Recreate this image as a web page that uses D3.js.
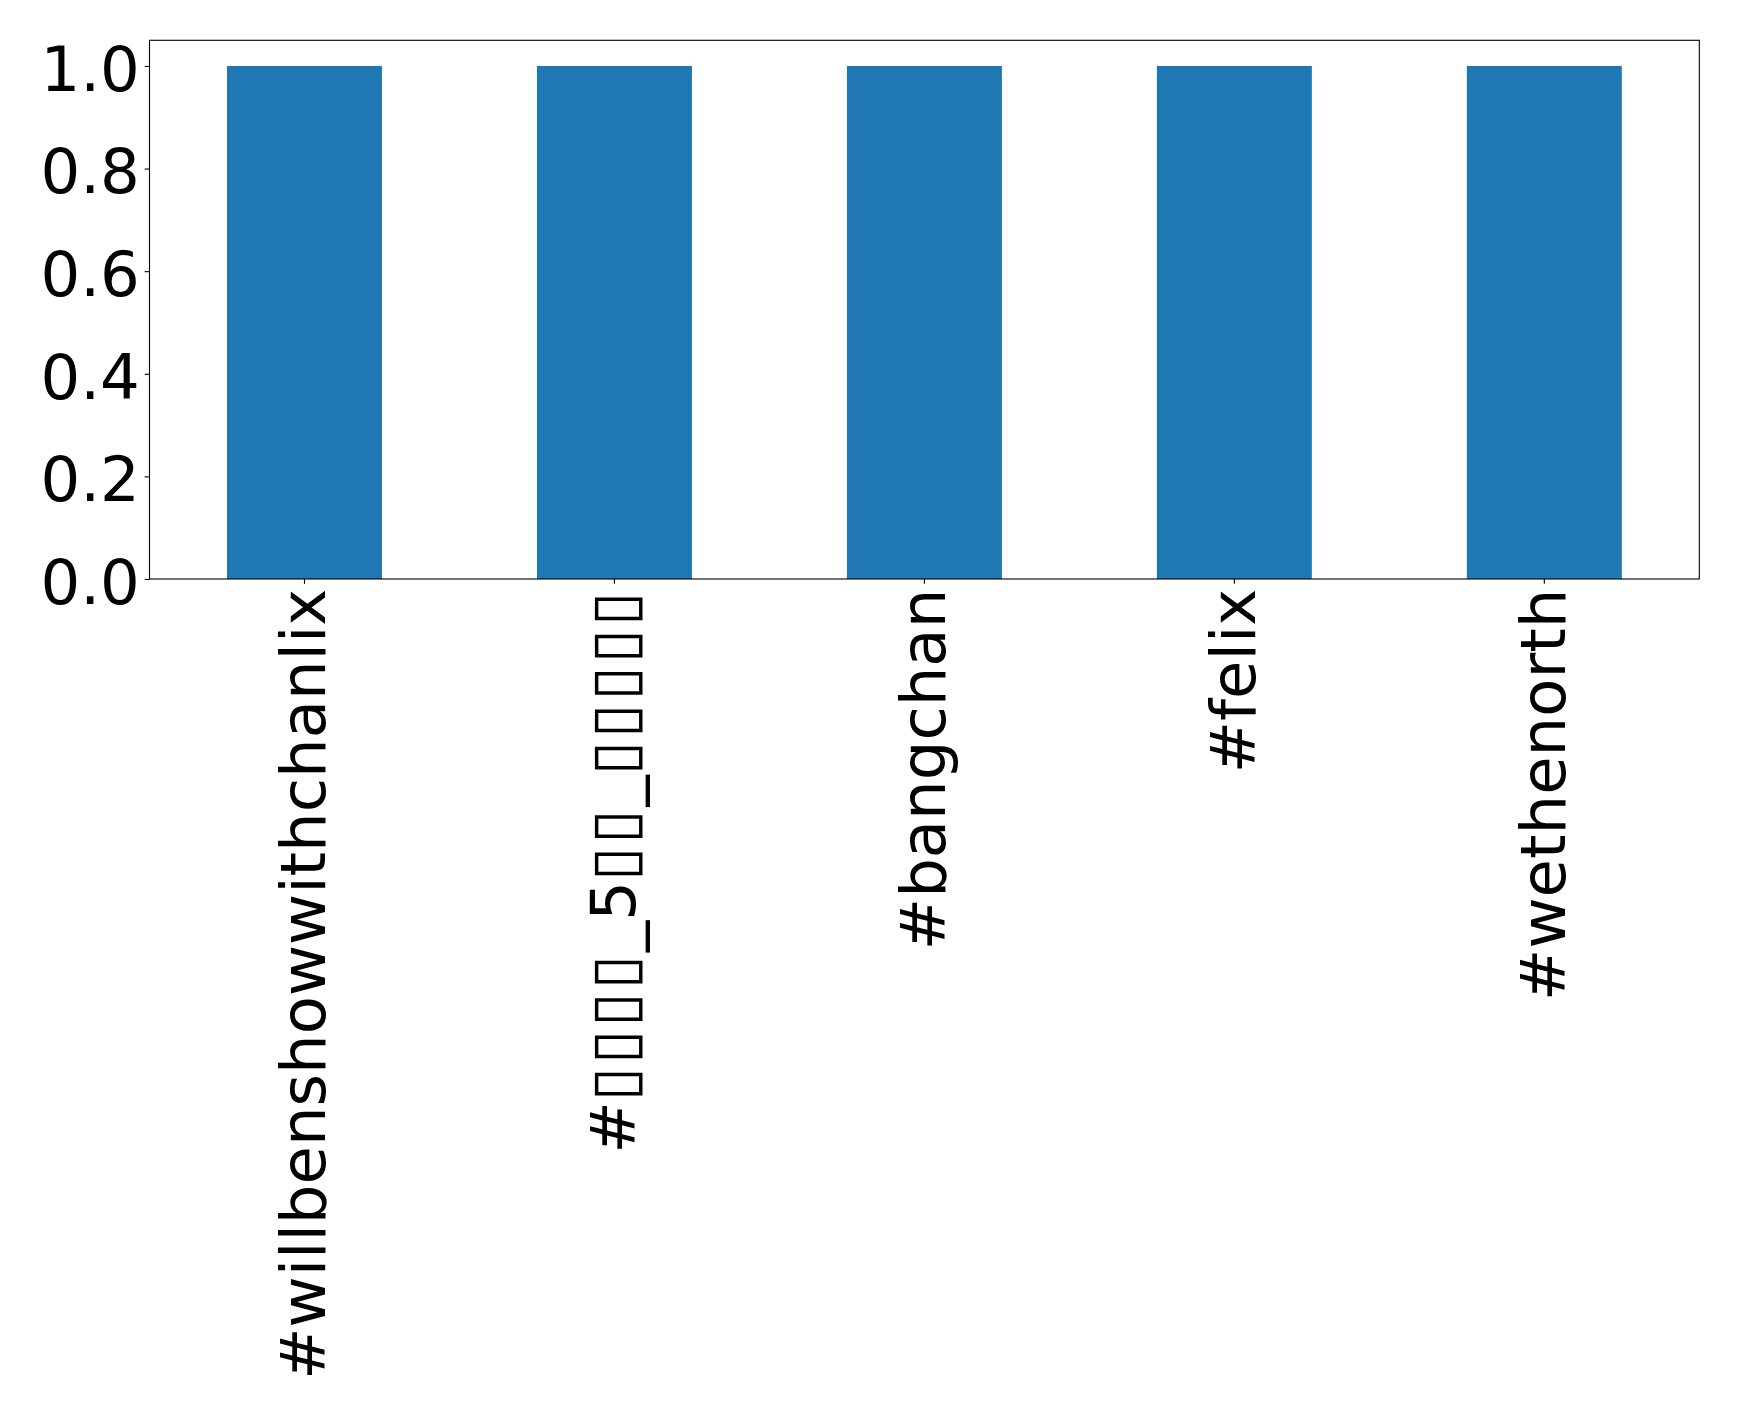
<!DOCTYPE html>
<html><head><meta charset="utf-8">
<script src="https://cdn.jsdelivr.net/npm/d3@7"></script>
<style>body{margin:0;background:#fff}svg{display:block}text{font-family:"DejaVu Sans";fill:#000}</style>
</head><body>
<script>
const categories = ["#willbenshowwithchanlix", "#▯▯▯▯_5▯▯_▯▯▯▯▯", "#bangchan", "#felix", "#wethenorth"];
const values = [1, 1, 1, 1, 1];
const yTicks = [0, 0.2, 0.4, 0.6, 0.8, 1.0];

const W = 1739, H = 1419;
const m = {left: 149.5, right: 1699.3, top: 40.3, bottom: 579};
const fs = 62.5, tickLen = 4.86, pad = 4.86;

const svg = d3.select("body").append("svg").attr("width", W).attr("height", H);
svg.append("rect").attr("width", W).attr("height", H).attr("fill", "#fff");

const x = d3.scaleBand().domain(categories).range([m.left, m.right]).paddingInner(0.5).paddingOuter(0.25);
const y = d3.scaleLinear().domain([0, 1.05]).range([m.bottom, m.top]);

svg.selectAll("rect.bar").data(values).join("rect").attr("class", "bar")
  .attr("x", (d, i) => x(categories[i])).attr("width", x.bandwidth())
  .attr("y", d => y(d)).attr("height", d => y(0) - y(d)).attr("fill", "#1f77b4");

// y axis
const ya = svg.append("g").attr("transform", `translate(${m.left},0)`)
  .call(d3.axisLeft(y).tickValues(yTicks).tickFormat(d3.format(".1f")).tickSize(tickLen).tickPadding(pad));
ya.select(".domain").remove();
ya.selectAll("line").attr("stroke", "#000").attr("stroke-width", 1.1);
ya.selectAll("text").attr("font-size", fs).attr("font-family", "DejaVu Sans").attr("fill", "#000")
  .attr("dy", "0.39em");

// x axis
const xa = svg.append("g").attr("transform", `translate(0,${m.bottom})`)
  .call(d3.axisBottom(x).tickSize(tickLen).tickPadding(pad));
xa.select(".domain").remove();
xa.selectAll("line").attr("stroke", "#000").attr("stroke-width", 1.1);
xa.selectAll("text").attr("font-size", fs).attr("font-family", "DejaVu Sans").attr("fill", "#000")
  .attr("text-anchor", "end").attr("y", 0).attr("dy", "0.33em")
  .attr("transform", `translate(0,${tickLen + pad}) rotate(-90)`)
  .each(function(d) {
    if (!d.includes("▯")) return;
    const t = d3.select(this).text("");
    const runs = d.match(/▯+|[^▯]+/g);
    runs.forEach(r => {
      const ts = t.append("tspan").text(r);
      if (r[0] === "▯") ts.attr("letter-spacing", "2.9px");
    });
  });

// frame
svg.append("rect").attr("x", m.left).attr("y", m.top)
  .attr("width", m.right - m.left).attr("height", m.bottom - m.top)
  .attr("fill", "none").attr("stroke", "#000").attr("stroke-width", 1.1);
</script>
</body></html>
